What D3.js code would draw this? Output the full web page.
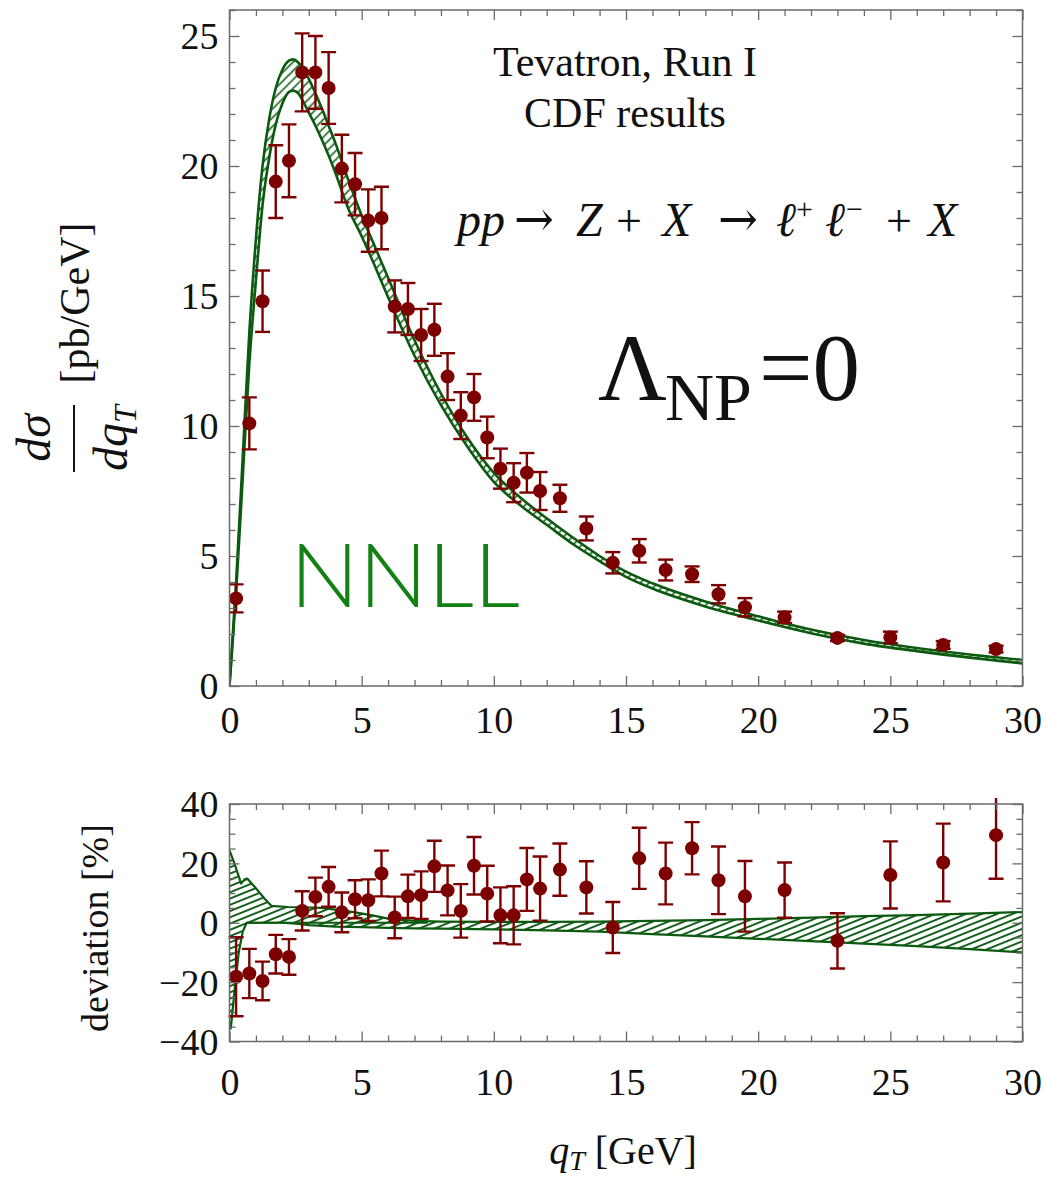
<!DOCTYPE html>
<html>
<head>
<meta charset="utf-8">
<script src="https://cdn.jsdelivr.net/npm/d3@7"></script>
<style>
  body { margin: 0; background: #fff; }
  svg { display: block; }
  .serif, .serif text { font-family: 'Liberation Serif', 'Times New Roman', serif; }
</style>
</head>
<body>
<svg id="chart" width="1047" height="1178"></svg>
<script>
// ---- CDF Run I, Z boson transverse-momentum spectrum ----
const qT = [0.25, 0.75, 1.25, 1.75, 2.25, 2.75, 3.25, 3.75, 4.25, 4.75, 5.25, 5.75, 6.25, 6.75,
            7.25, 7.75, 8.25, 8.75, 9.25, 9.75, 10.25, 10.75, 11.25, 11.75, 12.5, 13.5, 14.5,
            15.5, 16.5, 17.5, 18.5, 19.5, 21, 23, 25, 27, 29];
const sigma = [3.37, 10.1, 14.8, 19.4, 20.2, 23.6, 23.6, 23.0, 19.9, 19.3, 17.9, 18.0, 14.6, 14.5,
               13.5, 13.7, 11.9, 10.4, 11.1, 9.56, 8.36, 7.82, 8.2, 7.5, 7.22, 6.06, 4.74,
               5.2, 4.46, 4.3, 3.53, 3.03, 2.64, 1.85, 1.87, 1.58, 1.42];
const sigmaErr = [0.54, 1.0, 1.18, 1.4, 1.4, 1.5, 1.4, 1.38, 1.3, 1.2, 1.2, 1.2, 1.0, 1.0,
                  1.0, 1.0, 0.9, 0.9, 0.9, 0.8, 0.77, 0.75, 0.76, 0.73, 0.52, 0.46, 0.41,
                  0.45, 0.4, 0.3, 0.35, 0.35, 0.22, 0.12, 0.22, 0.15, 0.13];

// relative deviation of the data from the NNLL prediction [%]
const deviation = [-18.2, -17.1, -19.6, -10.6, -11.5, 4.0, 8.7, 12.1, 3.5, 7.9, 7.6, 16.6, 1.8, 8.9,
                   9.3, 19.0, 10.9, 4.0, 19.2, 9.8, 2.5, 2.5, 14.6, 11.5, 17.9, 11.9, -1.6,
                   21.7, 16.6, 25.1, 14.3, 8.9, 11.0, -6.1, 16.1, 20.3, 29.5];
const deviationErr = [13.3, 8.3, 6.5, 6.5, 6.0, 6.6, 6.5, 6.7, 6.7, 6.4, 7.0, 7.7, 7.0, 7.3,
                      8.0, 8.6, 8.4, 9.0, 9.7, 9.4, 9.4, 9.8, 10.6, 10.8, 8.8, 8.8, 8.6,
                      10.3, 10.4, 8.8, 11.4, 11.9, 9.3, 9.3, 11.3, 13.1, 14.7];

// NNLL scale-variation band for dσ/dqT [pb/GeV]
const bandX = [0, 0.1, 0.25, 0.5, 0.75, 1.0, 1.25, 1.5, 1.75, 2.0, 2.25, 2.4, 2.6, 2.75, 3.0, 3.25,
               3.5, 3.75, 4.0, 4.5, 5.0, 5.5, 6.0, 7.0, 8.0, 9.0, 10, 11, 12, 13, 14, 15, 16,
               18, 20, 22, 24, 26, 28, 30];
const bandUpper = [0, 1.6, 4.0, 8.8, 13.6, 17.2, 20.0, 21.8, 23.0, 23.7, 24.05, 24.1, 23.98, 23.8,
                   23.35, 22.8, 22.2, 21.55, 20.9, 19.45, 18.1, 16.9, 15.7, 13.3, 11.25, 9.55,
                   8.2, 7.25, 6.45, 5.7, 5.0, 4.4, 3.95, 3.25, 2.68, 2.17, 1.77, 1.46, 1.21, 1.0];
const bandLower = [0, 1.4, 3.6, 8.0, 12.4, 15.6, 18.5, 20.3, 21.6, 22.4, 22.85, 22.9, 22.8, 22.55,
                   22.05, 21.55, 21.0, 20.4, 19.75, 18.35, 17.3, 16.15, 14.95, 12.7, 10.8, 9.2,
                   7.85, 6.95, 6.2, 5.45, 4.8, 4.2, 3.75, 3.06, 2.52, 2.03, 1.63, 1.34, 1.09, 0.87];

// same band, relative to the central prediction [%]
const devBandUpX = [0, 0.19, 0.44, 0.57, 0.67, 0.95, 1.33, 1.58, 2.2, 3.5, 4.7, 5.4, 6.0, 7.0, 8,
                    10, 12, 14, 16, 18, 20, 22, 24, 26, 28, 30];
const devBandUp = [24.4, 19.9, 13.2, 14.6, 14.9, 12.1, 8.1, 5.7, 5.3, 5.0, 3.6, 2.5, 1.4, 0.6, 0.4,
                   0.3, 0.3, 0.4, 0.6, 0.9, 1.3, 1.7, 2.2, 2.6, 3.1, 3.6];
const devBandLoX = [0, 0.05, 0.2, 0.35, 0.5, 0.65, 1.0, 2.0, 2.5, 3, 4, 5, 6, 7, 8, 10, 12, 14,
                    16, 18, 20, 22, 24, 26, 28, 30];
const devBandLo = [-33, -35.6, -22, -10, -3, 0, 0, 0, -0.3, -0.8, -1.3, -1.5, -1.7, -1.9, -2.0,
                   -2.2, -2.6, -3.0, -3.8, -4.6, -5.4, -6.2, -7.0, -7.9, -8.9, -10.0];
const devRefX = [0.65, 7.5];
const devRef = [0, 0];

// axis ticks
const xMajor = [0, 5, 10, 15, 20, 25, 30];
const yTopMajor = [0, 5, 10, 15, 20, 25];
const yBotMajor = [-40, -20, 0, 20, 40];

// ---- layout ----
const svg = d3.select("#chart");
const x = d3.scaleLinear([0, 30], [229.5, 1022.5]);
const yTop = d3.scaleLinear([0, 26], [686, 10]);
const yBot = d3.scaleLinear([-40, 40], [1041.5, 804]);

const RED = "#7d0000";
const GREEN_LINE = "#0c5a10";
const GREEN_HATCH = "#14601a";
const FRAME = "#6a6a6a";
const SERIF = "'Liberation Serif', 'Times New Roman', serif";

const defs = svg.append("defs");
function hatch(id, angle, spacing, width) {
  const p = defs.append("pattern")
    .attr("id", id)
    .attr("patternUnits", "userSpaceOnUse")
    .attr("width", 20).attr("height", spacing)
    .attr("patternTransform", `rotate(${-angle})`);
  p.append("rect").attr("width", 20).attr("height", spacing).attr("fill", "#fff");
  p.append("line").attr("x1", 0).attr("x2", 20)
    .attr("y1", spacing / 2).attr("y2", spacing / 2)
    .attr("stroke", GREEN_HATCH).attr("stroke-width", width);
}
hatch("hatchTop", 45, 6.2, 1.6);
hatch("hatchBot", 22, 5.8, 1.9);

defs.append("clipPath").attr("id", "clipTop").append("rect")
  .attr("x", x(0)).attr("y", yTop(26)).attr("width", x(30) - x(0)).attr("height", yTop(0) - yTop(26));
defs.append("clipPath").attr("id", "clipBot").append("rect")
  .attr("x", x(0)).attr("y", yBot(40)).attr("width", x(30) - x(0)).attr("height", yBot(-40) - yBot(40));
defs.append("clipPath").attr("id", "clipBotData").append("rect")
  .attr("x", x(0) - 10).attr("y", yBot(40) - 6).attr("width", x(30) - x(0) + 20).attr("height", yBot(-40) - yBot(40) + 6);

// ---- frames with inward ticks on all four sides ----
function frame(yScale, major, minorStep) {
  const [y0, y1] = yScale.domain();
  const xMinor = d3.range(0, 31, 1).filter(v => !xMajor.includes(v));
  const yMinor = d3.range(y0, y1 + 0.001, minorStep).filter(v => !major.includes(v));
  const yb = yScale.range()[0], yt = yScale.range()[1];
  const xl = x.range()[0], xr = x.range()[1];
  const g = svg.append("g").attr("class", "serif");

  const bottom = g.append("g").attr("transform", `translate(0,${yb})`);
  bottom.call(d3.axisBottom(x).tickValues(xMajor).tickSizeInner(-10).tickSizeOuter(0).tickPadding(0));
  bottom.append("g").call(d3.axisBottom(x).tickValues(xMinor).tickSizeInner(-6).tickSizeOuter(0).tickFormat(""));
  const top = g.append("g").attr("transform", `translate(0,${yt})`);
  top.call(d3.axisTop(x).tickValues(xMajor).tickSizeInner(-10).tickSizeOuter(0).tickFormat(""));
  top.append("g").call(d3.axisTop(x).tickValues(xMinor).tickSizeInner(-6).tickSizeOuter(0).tickFormat(""));
  const left = g.append("g").attr("transform", `translate(${xl},0)`);
  left.call(d3.axisLeft(yScale).tickValues(major).tickSizeInner(-10).tickSizeOuter(0).tickPadding(11)
    .tickFormat(d => d < 0 ? "\u2212" + Math.abs(d) : d));
  left.append("g").call(d3.axisLeft(yScale).tickValues(yMinor).tickSizeInner(-6).tickSizeOuter(0).tickFormat(""));
  const right = g.append("g").attr("transform", `translate(${xr},0)`);
  right.call(d3.axisRight(yScale).tickValues(major).tickSizeInner(-10).tickSizeOuter(0).tickFormat(""));
  right.append("g").call(d3.axisRight(yScale).tickValues(yMinor).tickSizeInner(-6).tickSizeOuter(0).tickFormat(""));

  // replace the axis defaults with the frame's own type
  g.selectAll("g").attr("font-family", SERIF).attr("font-size", 38);
  g.selectAll(".domain").remove();
  g.selectAll(".tick line").attr("stroke", FRAME).attr("stroke-width", 1.3);
  g.selectAll("text").attr("font-family", SERIF).attr("font-size", 38)
    .style("font-family", SERIF).style("font-size", "38px").attr("fill", "#111");
  left.selectAll("text").attr("dy", "0.34em");
  g.append("rect").attr("x", xl).attr("y", yt).attr("width", xr - xl).attr("height", yb - yt)
    .attr("fill", "none").attr("stroke", FRAME).attr("stroke-width", 1.5);
  return bottom;
}

// ---- top panel: band ----
const idx = d3.range(bandX.length);
const topBand = svg.append("g").attr("clip-path", "url(#clipTop)");
topBand.append("path")
  .attr("d", d3.area().x(i => x(bandX[i])).y0(i => yTop(bandLower[i])).y1(i => yTop(bandUpper[i]))
    .curve(d3.curveMonotoneX)(idx))
  .attr("fill", "url(#hatchTop)");
[bandUpper, bandLower].forEach(arr => {
  topBand.append("path")
    .attr("d", d3.line().x(i => x(bandX[i])).y(i => yTop(arr[i])).curve(d3.curveMonotoneX)(idx))
    .attr("fill", "none").attr("stroke", GREEN_LINE).attr("stroke-width", 2.6);
});

// ---- bottom panel: band ----
const botBand = svg.append("g").attr("clip-path", "url(#clipBot)");
const upPts = devBandUpX.map((d, i) => [x(d), yBot(devBandUp[i])]);
const loPts = devBandLoX.map((d, i) => [x(d), yBot(devBandLo[i])]);
botBand.append("path")
  .attr("d", d3.line()(upPts.concat(loPts.slice().reverse())) + "Z")
  .attr("fill", "url(#hatchBot)");
[upPts, loPts, devRefX.map((d, i) => [x(d), yBot(devRef[i])])].forEach(pts => {
  botBand.append("path").attr("d", d3.line()(pts))
    .attr("fill", "none").attr("stroke", GREEN_LINE).attr("stroke-width", 2.2)
    .attr("stroke-linejoin", "round");
});

// ---- data points with error bars ----
function points(yScale, vals, errs, clip) {
  const g = svg.append("g").attr("clip-path", clip);
  const pt = g.selectAll("g.pt").data(qT).join("g").attr("class", "pt");
  pt.append("line")
    .attr("x1", d => x(d)).attr("x2", d => x(d))
    .attr("y1", (d, i) => yScale(vals[i] + errs[i])).attr("y2", (d, i) => yScale(vals[i] - errs[i]))
    .attr("stroke", RED).attr("stroke-width", 2.4);
  [1, -1].forEach(s => {
    pt.append("line")
      .attr("x1", d => x(d) - 7.5).attr("x2", d => x(d) + 7.5)
      .attr("y1", (d, i) => yScale(vals[i] + s * errs[i])).attr("y2", (d, i) => yScale(vals[i] + s * errs[i]))
      .attr("stroke", RED).attr("stroke-width", 2.4);
  });
  pt.append("circle")
    .attr("cx", d => x(d)).attr("cy", (d, i) => yScale(vals[i]))
    .attr("r", 7).attr("fill", RED);
}
points(yTop, sigma, sigmaErr, "url(#clipTop)");
points(yBot, deviation, deviationErr, "url(#clipBotData)");

// ---- frames, ticks and tick labels ----
const topAxis = frame(yTop, yTopMajor, 1);
topAxis.selectAll("text").attr("y", 20).attr("dy", "0.71em");
const botAxis = frame(yBot, yBotMajor, 5);
botAxis.selectAll("text").attr("y", 27).attr("dy", "0.71em");

// ---- annotations ----
const ann = svg.append("g").attr("class", "serif").attr("fill", "#111");
ann.append("text").attr("x", 625).attr("y", 76).attr("text-anchor", "middle")
  .attr("font-size", 42).text("Tevatron, Run I");
ann.append("text").attr("x", 625).attr("y", 127).attr("text-anchor", "middle")
  .attr("font-size", 42).text("CDF results");

// p p → Z + X → ℓ⁺ℓ⁻ + X, laid out piece by piece with math spacing
const procPieces = [
  { t: "pp", x: 457, it: true },
  { t: "\u2192", x: 514, arrow: true },
  { t: "Z", x: 576, it: true },
  { t: "+", x: 616 },
  { t: "X", x: 662, it: true },
  { t: "\u2192", x: 718, arrow: true },
  { t: "\u2113", x: 776, it: true },
  { t: "+", x: 796, sup: true },
  { t: "\u2113", x: 825, it: true },
  { t: "\u2212", x: 846, sup: true },
  { t: "+", x: 886 },
  { t: "X", x: 928, it: true }
];
const proc = ann.append("g");
procPieces.forEach(p => {
  proc.append("text")
    .attr("x", p.x).attr("y", p.sup ? 219 : 236)
    .attr("font-size", p.sup ? 30 : p.arrow ? 50 : p.it ? 48 : 46)
    .attr("font-style", p.it ? "italic" : "normal")
    .style("font-family", p.arrow ? "'DejaVu Serif', serif" : SERIF)
    .attr("textLength", p.arrow ? 40 : null)
    .attr("lengthAdjust", p.arrow ? "spacingAndGlyphs" : null)
    .text(p.t);
});

ann.append("text").attr("x", 598).attr("y", 400).attr("font-size", 95).text("\u039B");
ann.append("text").attr("x", 665).attr("y", 420).attr("font-size", 68).text("NP");
ann.append("text").attr("x", 759).attr("y", 400).attr("font-size", 95).text("=0");

svg.append("text").attr("x", 290).attr("y", 607)
  .style("font-family", "Lato, 'Open Sans', sans-serif").attr("font-weight", 300)
  .attr("font-size", 88).attr("fill", "#138013")
  .attr("textLength", 230).attr("lengthAdjust", "spacingAndGlyphs").text("NNLL");

// ---- axis titles ----
const yl = svg.append("g").attr("class", "serif").attr("fill", "#111");
yl.append("text").attr("transform", "translate(50,438) rotate(-90)")
  .attr("text-anchor", "middle").attr("font-size", 48).attr("font-style", "italic").text("d\u03C3");
yl.append("line").attr("x1", 74).attr("x2", 74).attr("y1", 405).attr("y2", 472)
  .attr("stroke", "#111").attr("stroke-width", 2);
const den = yl.append("text").attr("transform", "translate(127,438) rotate(-90)")
  .attr("text-anchor", "middle").attr("font-size", 48).attr("font-style", "italic");
den.append("tspan").text("dq");
den.append("tspan").attr("font-size", 32).attr("dy", 9).text("T");
yl.append("text").attr("transform", "translate(89,303) rotate(-90)")
  .attr("text-anchor", "middle").attr("font-size", 42).text("[pb/GeV]");

yl.append("text").attr("transform", "translate(108,928) rotate(-90)")
  .attr("text-anchor", "middle").attr("font-size", 38).text("deviation [%]");

const xl = yl.append("text").attr("x", 623).attr("y", 1164).attr("text-anchor", "middle").attr("font-size", 40);
xl.append("tspan").attr("font-style", "italic").text("q");
xl.append("tspan").attr("font-style", "italic").attr("font-size", 28).attr("dy", 6).text("T");
xl.append("tspan").attr("dy", -6).text(" [GeV]");
</script>
</body>
</html>
